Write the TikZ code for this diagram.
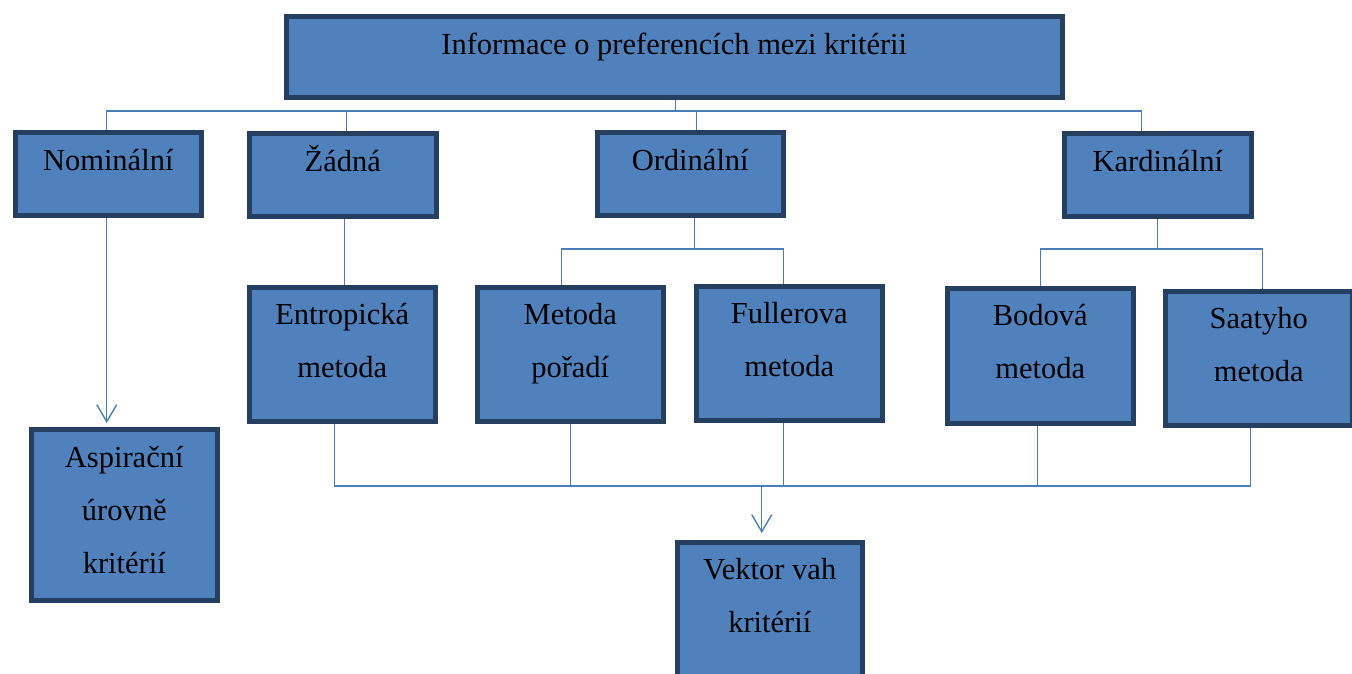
\documentclass[tikz,border=0pt]{standalone}
\usepackage{fontspec}
\setmainfont{Liberation Serif}
\usepackage{tikz}
\usetikzlibrary{arrows.meta, positioning, backgrounds}
\definecolor{boxfill}{RGB}{79,129,189}
\definecolor{boxline}{RGB}{36,63,96}
\definecolor{linkblue}{RGB}{74,126,187}

\begin{document}
\begin{tikzpicture}[x=1pt, y=-1pt,
  box/.style={draw=boxline, line width=5.5pt, fill=boxfill, anchor=north west, inner sep=0pt},
  txt/.style={font=\fontsize{30.5}{53}\selectfont, align=center, inner sep=0pt},
  link/.style={draw=linkblue, line width=1.4pt},
  arr/.style={link, -{Straight Barb[length=17pt, width=20pt]}}]
  \useasboundingbox (0,0) rectangle (1352,673);

  % horní úroveň
  \node[box, minimum width=776pt, minimum height=81pt] (info) at (283.5,13.5) {};
  \node[txt, below=4pt of info.north] (infot) {\strut Informace o preferencích mezi kritérii};

  % druhy informace
  \node[box, minimum width=186pt, minimum height=83pt] (nom) at (12.5,129.5) {};
  \node[box, minimum width=187pt, minimum height=83pt] (zad) at (246.5,130.5) {};
  \node[box, minimum width=186pt, minimum height=83pt] (ord) at (594.5,129.5) {};
  \node[box, minimum width=187pt, minimum height=83pt] (kar) at (1061.5,130.5) {};
  \node[txt, below=4pt of nom.north] (nomt) {\strut Nominální};
  \node[txt, below=4pt of zad.north] (zadt) {\strut Žádná};
  \node[txt, below=4pt of ord.north] (ordt) {\strut Ordinální};
  \node[txt, below=4pt of kar.north] (kart) {\strut Kardinální};

  % metody
  \node[box, minimum width=186pt, minimum height=134pt] (ent) at (246.5,284.5) {};
  \node[box, minimum width=186pt, minimum height=134pt] (por) at (474.5,284.5) {};
  \node[box, minimum width=186pt, minimum height=134pt] (ful) at (693.5,283.5) {};
  \node[box, minimum width=186pt, minimum height=135pt] (bod) at (944.5,285.5) {};
  \node[box, minimum width=187pt, minimum height=134pt] (saa) at (1162.5,288.5) {};
  \node[txt, below=3pt of ent.north] (entt) {\strut Entropická\\metoda};
  \node[txt, below=3pt of por.north] (port) {\strut Metoda\\pořadí};
  \node[txt, below=3pt of ful.north] (fult) {\strut Fullerova\\metoda};
  \node[txt, below=3pt of bod.north] (bodt) {\strut Bodová\\metoda};
  \node[txt, below=3pt of saa.north] (saat) {\strut Saatyho\\metoda};

  % výstupy
  \node[box, minimum width=186pt, minimum height=171pt] (asp) at (28.5,426.5) {};
  \node[box, minimum width=185pt, minimum height=150pt] (vek) at (674.5,539.5) {};
  \node[txt, below=4pt of asp.north] (aspt) {\strut Aspirační\\úrovně\\kritérií};
  \node[txt, below=3pt of vek.north] (vekt) {\strut Vektor vah\\kritérií};

  % spojnice
  \begin{scope}[on background layer]
    \coordinate (tb) at (0,111);
    \coordinate (ob) at (0,249);
    \coordinate (bb) at (0,486);
    \coordinate (infoout) at ([xshift=1.5pt]info.south);
    \coordinate (nomin) at ([xshift=-1.5pt]nom.north);
    \coordinate (zadin) at ([xshift=4pt]zad.north);
    \coordinate (ordin) at ([xshift=6.5pt]ord.north);
    \coordinate (karin) at ([xshift=-16pt]kar.north);
    \draw[link] (infoout) -- (infoout |- tb);
    \draw[link] (nomin) |- (karin |- tb) -- (karin);
    \draw[link] (zadin) -- (zadin |- tb);
    \draw[link] (ordin) -- (ordin |- tb);

    \coordinate (nomout) at ([xshift=-1.5pt]nom.south);
    \draw[arr, shorten >=3.5pt] (nomout) -- (nomout |- asp.north);
    \coordinate (zadout) at ([xshift=2pt]zad.south);
    \draw[link] (zadout) -- (zadout |- ent.north);

    \coordinate (ordout) at ([xshift=4.5pt]ord.south);
    \coordinate (porin) at ([xshift=-8.5pt]por.north);
    \coordinate (fulin) at ([xshift=-5.5pt]ful.north);
    \draw[link] (ordout) -- (ordout |- ob);
    \draw[link] (porin) |- (fulin |- ob) -- (fulin);

    \coordinate (saain) at ([xshift=4pt]saa.north);
    \draw[link] (kar.south) -- (kar.south |- ob);
    \draw[link] (bod.north) |- (saain |- ob) -- (saain);

    \coordinate (entout) at ([xshift=-7.5pt]ent.south);
    \coordinate (fulout) at ([xshift=-5.5pt]ful.south);
    \coordinate (bodout) at ([xshift=-2.5pt]bod.south);
    \coordinate (saaout) at ([xshift=-8pt]saa.south);
    \coordinate (vekin) at ([xshift=-8pt]vek.north);
    \draw[link] (entout) |- (saaout |- bb) -- (saaout);
    \draw[link] (por.south) -- (por.south |- bb);
    \draw[link] (fulout) -- (fulout |- bb);
    \draw[link] (bodout) -- (bodout |- bb);
    \draw[arr, shorten >=6.5pt] (vekin |- bb) -- (vekin);
  \end{scope}
\end{tikzpicture}
\end{document}
